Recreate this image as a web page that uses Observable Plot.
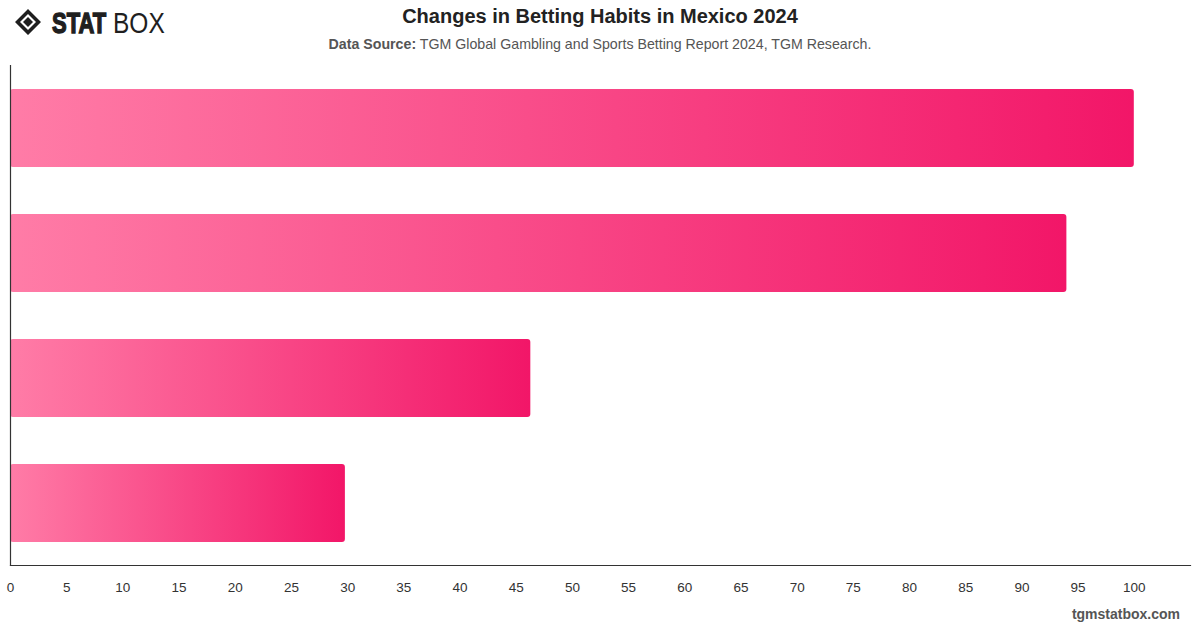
<!DOCTYPE html>
<html>
<head>
<meta charset="utf-8">
<script src="https://cdn.jsdelivr.net/npm/d3@7"></script>
<script src="https://cdn.jsdelivr.net/npm/@observablehq/plot@0.6"></script>
<style>
  html, body { margin: 0; padding: 0; background: #fff; }
  body { width: 1200px; height: 628px; position: relative; overflow: hidden;
         font-family: "Liberation Sans", Arial, sans-serif; }
  #header { position: relative; height: 60px; }
  #logo { position: absolute; left: 14px; top: 6px; }
  #title { position: absolute; left: 0; right: 0; top: 5px; text-align: center;
           font-size: 20px; font-weight: 700; color: #222; }
  #subtitle { position: absolute; left: 0; right: 0; top: 36px; text-align: center;
              font-size: 14.2px; color: #555; }
  #subtitle b { color: #555; }
  #credit { position: absolute; right: 20px; top: 606px; font-size: 14px;
            font-weight: 700; color: #555; }
</style>
</head>
<body>
<div id="header">
  <svg id="logo" width="170" height="34" viewBox="0 0 170 34">
    <g transform="translate(14,16)">
      <path d="M0,-13 L13,0 L0,13 L-13,0 Z M0,-8 L-8,0 L0,8 L8,0 Z" fill="#1f1f1f" fill-rule="evenodd"/>
      <path d="M0,-5 L5,0 L0,5 L-5,0 Z" fill="#1f1f1f"/>
    </g>
    <g transform="translate(38,27) scale(1,1.32)">
      <text x="0" y="0" font-family="Liberation Sans, Arial" font-weight="900" font-size="22"
            fill="#1f1f1f" stroke="#1f1f1f" stroke-width="1.1">STAT</text>
    </g>
    <g transform="translate(99,27) scale(1,1.185)">
      <text x="0" y="0" font-family="Liberation Sans, Arial" font-weight="400" font-size="24.5"
            fill="#1f1f1f">BOX</text>
    </g>
  </svg>
  <div id="title">Changes in Betting Habits in Mexico 2024</div>
  <div id="subtitle"><b>Data Source:</b> TGM Global Gambling and Sports Betting Report 2024, TGM Research.</div>
</div>
<div id="chart"></div>
<div id="credit">tgmstatbox.com</div>
<script>
// Bar categories (top to bottom) and their values
const categories = ["Group 1", "Group 2", "Group 3", "Group 4"];
const values = [100, 94, 46.3, 29.8];

// X axis tick values
const xTicks = d3.range(0, 101, 5);

const data = categories.map((c, i) => ({category: c, value: values[i]}));

const chart = Plot.plot({
  width: 1200,
  height: 568,
  marginTop: 5,
  marginBottom: 63,
  marginLeft: 10,
  marginRight: 10,
  style: {fontFamily: "Liberation Sans, Arial, sans-serif", fontSize: "13.5px", color: "#333", background: "#fff"},
  x: {domain: [0, 105], label: null},
  y: {domain: categories, paddingInner: 0.376, paddingOuter: 0.188, axis: null},
  marks: [
    Plot.barX(data, {x: "value", y: "category", fill: "url(#barGradient)", rx: 3}),
    Plot.axisX({ticks: xTicks, tickSize: 0, tickPadding: 17, fontSize: 13.5, fill: "#333", label: null}),
    Plot.frame({anchor: "bottom", stroke: "#333", strokeWidth: 1.2}),
    Plot.frame({anchor: "left", stroke: "#333", strokeWidth: 1.2})
  ]
});

// Horizontal pink gradient applied to each bar
const ns = "http://www.w3.org/2000/svg";
const defs = document.createElementNS(ns, "defs");
const grad = document.createElementNS(ns, "linearGradient");
grad.setAttribute("id", "barGradient");
grad.setAttribute("x1", "0"); grad.setAttribute("x2", "1");
grad.setAttribute("y1", "0"); grad.setAttribute("y2", "0");
[["0%", "#ff7ca7"], ["100%", "#f21668"]].forEach(([o, c]) => {
  const s = document.createElementNS(ns, "stop");
  s.setAttribute("offset", o);
  s.setAttribute("stop-color", c);
  grad.appendChild(s);
});
defs.appendChild(grad);
chart.insertBefore(defs, chart.firstChild);

document.getElementById("chart").appendChild(chart);
</script>
</body>
</html>
